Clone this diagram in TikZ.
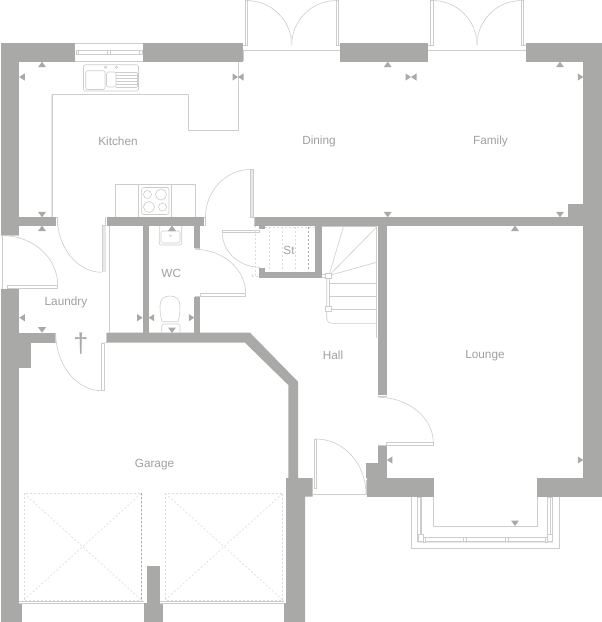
\documentclass[tikz,border=0pt]{standalone}
\usepackage{fontspec}
\setmainfont{Liberation Sans}
\usetikzlibrary{calc}
\definecolor{wallc}{HTML}{A9A9A7}
\definecolor{linec}{HTML}{CDCDCD}
\definecolor{dashc}{HTML}{DCDCDC}
\definecolor{panelc}{HTML}{E8E8E8}
\definecolor{textc}{HTML}{A0A0A0}
\tikzset{
  wall/.style={fill=wallc,draw=none},
  ln/.style={draw=linec,line width=0.6pt},
  lnp/.style={draw=linec,line width=0.6pt,fill=white},
  panel/.style={draw=none,fill=panelc},
  dsh/.style={draw=dashc,line width=0.6pt,dash pattern=on 2pt off 2pt},
  dshd/.style={draw=wallc,line width=0.5pt,dash pattern=on 2pt off 2pt},
  lbl/.style={text=textc,font=\fontsize{11.8}{13}\selectfont,inner sep=0pt}
}
\newcommand\triU[2]{\fill[wall] (#1,#2) -- ({#1-4},{#2+5.5}) -- ({#1+4},{#2+5.5}) -- cycle;}
\newcommand\triD[2]{\fill[wall] (#1,#2) -- ({#1-4},{#2-5.5}) -- ({#1+4},{#2-5.5}) -- cycle;}
\newcommand\triL[2]{\fill[wall] (#1,#2) -- ({#1+5.5},{#2-3.6}) -- ({#1+5.5},{#2+3.6}) -- cycle;}
\newcommand\triR[2]{\fill[wall] (#1,#2) -- ({#1-5.5},{#2-3.6}) -- ({#1-5.5},{#2+3.6}) -- cycle;}
\newcommand\darc[6]{\draw[ln] (#1,#2) .. controls ($(#1,#2)!.55!(#5,#6)$) and ($(#3,#4)!.55!(#5,#6)$) .. (#3,#4);}
\begin{document}
\begin{tikzpicture}[x=1pt,y=-1pt]
\useasboundingbox (0,0) rectangle (602,622);
\fill[white] (0,0) rectangle (602,622);
% --- walls
\fill[wall] (1,43.3) rectangle (75,61.7);
\fill[wall] (143,43.3) rectangle (243,61.7);
\fill[wall] (340,43.3) rectangle (428,61.7);
\fill[wall] (525.7,43.3) rectangle (601.7,61.7);
\fill[wall] (1,43.3) rectangle (19,235);
\fill[wall] (583.3,43.3) rectangle (601.7,496.7);
\fill[wall] (19,217.3) rectangle (56,225.5);
\fill[wall] (106.5,217.3) rectangle (204,225.5);
\fill[wall] (254.3,217.3) rectangle (583.3,225.5);
\fill[wall] (568,204) rectangle (584,225.5);
\fill[wall] (259.3,225) rectangle (265,229);
\fill[wall] (259.3,268) rectangle (265,272);
\fill[wall] (259.3,271.7) rectangle (321.7,277.7);
\fill[wall] (315,225) rectangle (321.7,277.7);
\fill[wall] (377.9,225) rectangle (386.7,395);
\fill[wall] (378,445) rectangle (386.7,478);
\fill[wall] (365.7,463) rectangle (386.7,478);
\fill[wall] (367.3,478) rectangle (434,496.7);
\fill[wall] (537.3,478) rectangle (601.7,496.7);
\fill[wall] (142.7,225) rectangle (148.7,333);
\fill[wall] (194.3,225) rectangle (200.3,248);
\fill[wall] (194.3,297) rectangle (200.3,333);
\fill[wall] (1,289) rectangle (19,603);
\fill[wall] (1,603) rectangle (22,622);
\fill[wall] (19,332.7) rectangle (55,342.7);
\fill[wall] (19,342) rectangle (31,368);
\fill[wall] (106.5,332.7) -- (250,332.7) -- (298,381.7) -- (298,478) -- (312.7,478) -- (312.7,496.7) -- (305,496.7) -- (305,622) -- (284,622) -- (284,603) -- (286,603) -- (286,478) -- (288.3,478) -- (288.3,385) -- (245,342.7) -- (106.5,342.7) -- cycle;
\fill[wall] (147,566) rectangle (160,603);
\fill[wall] (144,603) rectangle (162.7,622);
% --- kitchen window
\draw[ln] (75,43.6) -- (143,43.6) (75,61.4) -- (143,61.4);
\draw[ln] (76,50.5) rectangle (142,54.7);
\draw[lnp] (76,50.5) rectangle (78.5,54.7) (107.5,50.5) rectangle (110,54.7) (139.5,50.5) rectangle (142,54.7);
% --- sink
\draw[ln,rounded corners=1.5pt] (83.5,64.7) rectangle (138.5,91);
\draw[ln,rounded corners=2pt] (85.7,70.7) rectangle (105,89.5);
\draw[ln,rounded corners=2pt] (106.5,72) rectangle (116,87);
\draw[ln] (116,72.5) -- (137,72.5) (116,75.5) -- (137,75.5) (116,78.5) -- (137,78.5) (116,81.5) -- (137,81.5) (116,84.5) -- (137,84.5) (116,87) -- (137,87) (137,72.5) -- (137,87);
\draw[ln] (105.5,67.3) circle (1.2) (116.5,67.3) circle (1.2);
% --- worktop outline
\fill[panel] (51.2,94.5) rectangle (53,217.3);
\draw[ln] (52,217.3) -- (52,94.5) -- (188.7,94.5) -- (188.7,130) -- (238,130) -- (238,61.7);
% --- hob
\draw[ln] (115,217.3) -- (115,184) -- (195.5,184) -- (195.5,217.3);
\draw[ln] (138.7,184) -- (138.7,217.3) (171.7,184) -- (171.7,217.3);
\draw[ln,rounded corners=2pt] (141.7,187.5) rectangle (169,214.5);
\draw[ln] (147.5,194.5) circle (4) (161,194.5) circle (5.5) (149,207) circle (5.5) (162.5,207) circle (4);
% --- patio doors
\draw[ln] (243,50.3) -- (340,50.3);
\draw[ln] (428,50.3) -- (525.7,50.3);
\draw[lnp] (245,0.5) rectangle (247.3,45);
\draw[lnp] (336,0.5) rectangle (338.7,45);
\draw[lnp] (430.7,0.5) rectangle (433,45);
\draw[lnp] (521,0.5) rectangle (523.5,45);
\draw[ln] (243,45) -- (245,45) (243,50.3) -- (243,61);
\draw[ln] (338.7,45) -- (340,45) (428,45) -- (430.7,45) (523.5,45) -- (525.7,45);
\darc{247}{0.6}{291.7}{45}{291.7}{0.6}
\darc{336}{0.6}{291.7}{45}{291.7}{0.6}
\darc{433}{0.6}{477}{45}{477}{0.6}
\darc{521}{0.6}{477}{45}{477}{0.6}
\fill[panel] (290.8,36) rectangle (292.2,45) (476.1,36) rectangle (477.7,45);
% --- kitchen/hall door
\fill[panel] (250.7,169.5) rectangle (253.3,217);
\draw[ln] (250.5,169.5) rectangle (253.5,217);
\draw[ln] (253.5,217) -- (254.3,217) -- (254.3,225);
\darc{205.5}{217}{250.5}{169.5}{205.5}{169.5}
\draw[ln] (204,217.3) -- (205.5,217.3) -- (205.5,225.5);
% --- cupboard door + shelves
\draw[ln] (222.3,230) rectangle (259.3,232.5);
\darc{222.3}{232.5}{260}{267.3}{222.3}{267.3}
\draw[dsh] (255.7,226) -- (255.7,276);
\draw[dsh] (252,276) -- (258,276) (252,276) -- (252,272);
\draw[dsh] (265,227) -- (315,227);
\draw[dsh] (269.3,227) -- (269.3,271) (282.7,227) -- (282.7,271) (295.7,227) -- (295.7,271);
\draw[dshd] (308.7,227) -- (308.7,271);
% --- stairs
\draw[ln] (321.7,226.7) -- (377,226.7);
\draw[ln] (376.7,226.7) -- (376.7,338);
\draw[ln] (329,275.5) -- (343.3,227) (329,275.5) -- (376.7,227) (329,275.5) -- (376.7,262.3);
\draw[ln] (330,283.3) -- (376.7,283.3) (330,296.3) -- (376.7,296.3) (330,309.3) -- (376.7,309.3);
\draw[ln] (321.7,274.6) -- (326,274.6) (321.7,277.2) -- (326,277.2);
\draw[ln,rounded corners=5pt] (326.7,278) -- (326.7,323.3) -- (376.7,323.3);
\draw[ln] (329.5,278) -- (329.5,306);
\draw[lnp] (325.6,273) rectangle (331,278.4);
\draw[lnp] (325.6,306.3) rectangle (331,311.7);
% --- laundry side / doors
\fill[panel] (102,225.5) rectangle (105.5,272);
\draw[ln] (106,225.5) -- (102,225.5) -- (102,272);
\darc{57.3}{217.3}{101.7}{272.3}{57.3}{272.3}
\draw[ln] (56,217.3) -- (57.3,217.3) -- (57.3,225.5);
\draw[ln] (105.5,217.3) -- (105.5,225.5);
\draw[ln] (109.7,225.5) -- (109.7,332.7);
\draw[ln] (2.7,235) -- (2.7,289);
\draw[ln] (1,235.5) -- (19,235.5);
\darc{3}{235.7}{57.7}{285}{57.7}{235.7}
\draw[ln] (7.3,289) -- (7.3,285) -- (57.7,285) -- (57.7,288) -- (7.3,288);
\draw[ln] (55.7,333) -- (55.7,342.7);
\darc{55.7}{333}{101.7}{390.7}{55.7}{390.7}
\draw[ln] (101.7,390.7) -- (104.7,390.7) -- (104.7,343) -- (101.7,343) -- (101.7,390.7);
\draw[ln] (105.8,333) -- (105.8,342.7) -- (104.7,342.7);
% --- WC door
\draw[ln] (195,248.5) -- (200.3,248.5);
\darc{195}{249.3}{245.7}{293.5}{245.7}{249.3}
\draw[ln] (200.3,293.5) -- (245.7,293.5) -- (245.7,296.3) -- (195,296.3);
\draw[ln] (200.3,293.5) -- (200.3,296.3);
% --- basin
\draw[ln,rounded corners=2pt] (159.3,225.5) -- (159.3,245) -- (181.7,245) -- (181.7,225.5);
\draw[ln,rounded corners=1.5pt] (161,231) rectangle (180,243);
\draw[ln] (170.5,235.7) circle (0.7);
% --- toilet
\draw[ln] (162,321.7) .. controls (160.5,316) and (160,312) .. (160,306) .. controls (160,299) and (164,296) .. (170,296) .. controls (176,296) and (180,299) .. (180,306) .. controls (180,312) and (179.5,316) .. (178,321.7) -- cycle;
\draw[ln,rounded corners=1.5pt] (161.7,333) -- (161.7,324) -- (180,324) -- (180,333);
% --- lounge door
\draw[ln] (378.3,396.3) -- (386.7,396.3);
\darc{378.3}{397.3}{433.3}{442.7}{433.3}{397.3}
\draw[ln] (386.7,445) -- (386.7,442.7) -- (433.3,442.7) -- (433.3,445) -- (378.3,445);
% --- front door
\draw[lnp] (314.3,439) rectangle (316.6,488);
\darc{316}{439}{366}{494}{366}{439}
\draw[ln] (313,494.3) -- (367,494.3);
\draw[ln] (366,494.3) -- (366,480);
% --- bay window
\draw[ln] (411,496.7) -- (411,548.3) -- (559.3,548.3) -- (559.3,496.7);
\draw[ln] (433.3,496.7) -- (433.3,526) -- (537.3,526) -- (537.3,496.7);
\fill[panel] (418,541) rectangle (553,542.5);
\draw[ln] (417.7,497) -- (417.7,541.7) (420,497) -- (420,537.3) (421.7,497) -- (421.7,537.3);
\draw[ln] (552.7,497) -- (552.7,541.7) (550,497) -- (550,537.3) (547.7,497) -- (547.7,537.3);
\draw[ln] (417.7,537.3) -- (552.7,537.3) (417.7,541.7) -- (552.7,541.7);
\draw[ln] (417.7,497) -- (421.7,497) (547.7,497) -- (552.7,497);
\draw[lnp] (418,534.5) rectangle (423,541) (423,537) rectangle (425.5,542);
\draw[lnp] (547.5,534.5) rectangle (552.7,541) (545,537) rectangle (547.5,542);
\draw[lnp] (463.5,537.3) rectangle (466.5,541.7) (505.5,537.3) rectangle (508.5,541.7);
% --- garage
\draw[dsh] (24,493.3) rectangle (141.3,600);
\draw[dshd] (141.3,493.3) -- (141.3,600);
\draw[dsh] (165.3,493.3) rectangle (282.7,600);
\draw[dsh] (24,493.3) -- (141.3,600) (24,600) -- (141.3,493.3);
\draw[dsh] (165.3,493.3) -- (282.7,600) (165.3,600) -- (282.7,493.3);
\draw[ln] (19,601.7) -- (144,601.7) (19,603.3) -- (144,603.3);
\draw[ln] (160,601.7) -- (284,601.7) (160,603.3) -- (284,603.3);
% --- outlets
\triU{42}{61.7} \triL{19.3}{77} \triR{238}{77} \triL{238}{77}
\triD{42}{217.3} \triU{42}{225.5}
\triL{19.3}{317.7} \triD{42}{332.7}
\triR{142.7}{317.7} \triL{148.7}{317.7} \triR{194.3}{317.7}
\triD{172}{333} \triU{172}{225.5}
\triU{387.7}{61.7} \triR{411}{77} \triL{411}{77}
\triU{560}{61.7} \triR{583.3}{77}
\triD{387.7}{217.3} \triD{560}{217.3} \triU{515}{225.5}
\triL{386.9}{460} \triR{583.3}{460} \triD{515}{526}
% --- labels
\node[lbl] (kitchen) at (118,141.3) {Kitchen};
\node[lbl] (dining) at (319,141.3) {Dining};
\node[lbl] (family) at (490.5,141.3) {Family};
\node[lbl] (laundry) at (66,302) {Laundry};
\node[lbl] (wc) at (171.3,273.5) {WC};
\node[lbl] (st) at (289,250) {St};
\node[lbl] (hall) at (333,355.5) {Hall};
\node[lbl] (lounge) at (485,356) {Lounge};
\node[lbl] (garage) at (154.5,464.5) {Garage};
\node[text=wallc,font=\fontsize{27}{27}\selectfont,inner sep=0pt] (dagger) at (81,344) {†};
\end{tikzpicture}
\end{document}
